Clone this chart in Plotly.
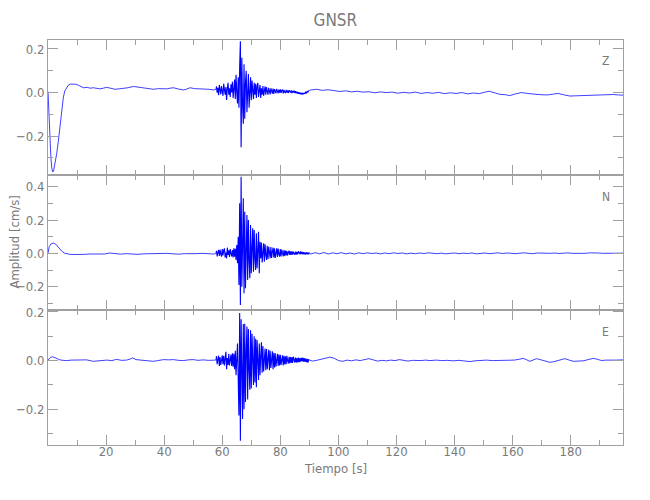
import plotly.graph_objects as go

# ---------------- data ----------------
BURST_T0 = 58.0   # start time of densely sampled strong-motion segment [s]
BURST_DT = 0.25   # sample interval of that segment [s]

# Z component
z_pre_t = [0.0, 0.25, 0.5, 0.75, 1.0, 1.3, 1.6, 1.9, 2.2, 2.6, 3.0, 3.5, 4.1, 4.7, 5.3, 5.8, 6.4, 7.0, 7.8, 8.7,
           9.5, 10.4, 11.2, 12.2, 13.5, 14.5, 15.6, 16.8, 17.9, 19.0, 20.2, 21.5, 23.1, 24.5, 26.0, 27.5, 29.4,
           30.5, 31.7, 33.0, 34.5, 36.3, 38.0, 39.5, 40.9, 42.0, 43.2, 45.0, 46.6, 47.8, 48.9, 50.5, 52.3, 54.0,
           55.5, 56.9, 57.75]
z_pre_v = [0.005, -0.08, -0.16, -0.24, -0.30, -0.345, -0.364, -0.36, -0.34, -0.31, -0.28, -0.23, -0.159, -0.085,
           -0.021, 0.008, 0.024, 0.034, 0.039, 0.040, 0.038, 0.034, 0.028, 0.022, 0.024, 0.020, 0.022, 0.019,
           0.017, 0.020, 0.024, 0.020, 0.015, 0.017, 0.018, 0.022, 0.028, 0.026, 0.022, 0.020, 0.017, 0.015,
           0.018, 0.016, 0.017, 0.020, 0.022, 0.016, 0.012, 0.016, 0.022, 0.018, 0.017, 0.019, 0.015, 0.012, 0.014]
z_burst = [0.028, 0.0, 0.022, -0.012, 0.035, 0.005, -0.008, 0.03,
           0.012, -0.015, 0.04, 0.018, -0.01, 0.025, -0.034, 0.02,
           0.045, -0.01, 0.02, -0.02, 0.038, 0.0, 0.05, -0.025,
           0.015, 0.06, -0.03, 0.082, 0.0, -0.05, 0.07, -0.07,
           0.12, 0.235, -0.251, 0.16, -0.06, -0.143, 0.13, -0.12,
           0.05, 0.1, -0.09, 0.02, 0.085, -0.07, -0.02, 0.07,
           -0.035, 0.055, 0.01, -0.03, 0.045, -0.01, 0.04, -0.025,
           0.03, 0.045, -0.02, 0.01, 0.035, -0.025, 0.02, -0.01,
           0.03, -0.015, 0.012, 0.028, -0.01, 0.025, 0.005, -0.01,
           0.022, 0.0, -0.008, 0.02, 0.004, -0.005, 0.018, -0.006,
           0.016, 0.005, -0.003, 0.017, 0.002, -0.004, 0.014, 0.0,
           0.015, -0.002, 0.01, 0.014, -0.004, 0.012, 0.002, -0.002,
           0.012, 0.0, 0.01, -0.003, 0.011, 0.003, 0.0, 0.01,
           -0.002, 0.008, 0.0, 0.009, -0.002, 0.006, -0.003, 0.004,
           -0.005, 0.002, -0.006, 0.0, -0.008, -0.002, -0.008, -0.003,
           -0.006, -0.002, -0.005, 0.002, -0.002, 0.005, 0.002, 0.008,
           0.01]
z_post_t = [90.5, 92.5, 94.5, 96.5, 98.5, 100.5, 102.5, 104.5, 106.5, 108.5, 110.5, 112.5, 114.5, 116.5, 118.5,
            120.5, 122.5, 124.5, 126.5, 128.5, 130.5, 132.5, 134.5, 136.5, 138.5, 140.5, 142.5, 144.5, 146.5,
            148.5, 150.5, 152.0, 154.0, 155.5, 157.5, 159.0, 161.0, 163.0, 165.0, 166.0, 168.0, 170.0, 172.0,
            174.0, 175.7, 177.5, 179.7, 181.5, 183.0, 185.0, 187.0, 189.0, 191.0, 193.0, 194.6, 196.5, 198.0]
z_post_v = [0.012, 0.015, 0.010, 0.013, 0.008, 0.005, 0.008, 0.003, 0.006, 0.002, 0.004, -0.001, 0.003, 0.0,
            0.002, -0.003, 0.001, -0.002, 0.002, -0.004, 0.0, -0.003, 0.001, -0.005, -0.001, -0.004, 0.0,
            -0.006, -0.002, -0.005, 0.002, 0.006, -0.002, -0.008, -0.010, -0.014, -0.006, 0.0, -0.004, -0.006,
            -0.008, -0.010, -0.011, -0.007, -0.004, -0.010, -0.016, -0.015, -0.014, -0.013, -0.012, -0.012,
            -0.011, -0.010, -0.009, -0.011, -0.012]

# N component
n_pre_t = [0.0, 0.4, 1.0, 1.8, 2.6, 3.5, 4.7, 5.8, 6.8, 7.6, 9.0, 11.0, 12.5, 14.5, 16.0, 17.9, 19.5, 21.3, 23.0,
           25.0, 27.0, 29.0, 31.0, 33.0, 35.0, 37.0, 39.0, 41.0, 43.0, 45.0, 47.0, 49.0, 51.0, 53.0, 55.0, 57.0,
           57.75]
n_pre_v = [0.0, 0.04, 0.056, 0.062, 0.056, 0.036, 0.014, 0.0, -0.005, -0.006, -0.007, -0.008, -0.006, -0.004,
           -0.005, -0.002, -0.004, 0.002, -0.003, -0.005, -0.002, -0.004, -0.006, -0.003, -0.002, -0.005,
           -0.003, 0.0, -0.003, -0.005, -0.002, -0.004, -0.002, 0.0, -0.003, -0.004, -0.002]
n_burst = [0.015, -0.018, 0.005, 0.02, -0.015, 0.022, -0.005, -0.02,
           0.025, -0.012, 0.018, 0.03, -0.025, 0.005, -0.03, 0.034,
           -0.01, 0.018, -0.022, 0.025, 0.0, -0.018, 0.02, -0.025,
           0.03, -0.02, 0.028, -0.04, 0.05, -0.06, 0.1, -0.19,
           0.30, -0.31, 0.46, -0.2, 0.05, 0.33, -0.24, 0.25,
           -0.21, 0.08, 0.23, -0.16, 0.2, -0.05, -0.15, 0.17,
           -0.12, 0.03, 0.15, -0.11, 0.14, -0.04, -0.1, 0.12,
           -0.09, 0.02, 0.13, -0.12, 0.07, -0.03, 0.065, -0.055,
           0.02, 0.06, -0.05, 0.055, -0.01, -0.04, 0.045, -0.035,
           0.04, 0.005, -0.03, 0.038, -0.028, 0.01, 0.035, -0.025,
           0.03, -0.028, 0.0, 0.03, -0.022, 0.028, -0.005, -0.02,
           0.025, -0.018, 0.022, 0.0, -0.018, 0.02, -0.015, 0.017,
           -0.012, 0.015, -0.013, 0.005, 0.016, -0.01, 0.012, -0.009,
           0.012, -0.008, 0.01, -0.002, -0.008, 0.01, -0.007, 0.009,
           -0.006, 0.012, 0.001, -0.005, 0.011, -0.005, 0.008, -0.006,
           0.007, -0.006, 0.006, -0.007, 0.006, -0.005, 0.005, -0.006,
           0.004]
n_post_t = [90.5, 92.0, 93.5, 95.0, 96.5, 98.0, 99.5, 101.0, 102.5, 104.0, 105.5, 107.0, 108.5, 110.0, 111.5,
            113.0, 114.5, 116.0, 117.5, 119.0, 120.5, 122.0, 123.5, 125.0, 126.5, 128.0, 129.5, 131.0, 132.5,
            134.0, 135.5, 137.0, 138.5, 140.0, 141.5, 143.0, 144.5, 146.0, 147.5, 149.0, 150.5, 152.0, 153.5,
            155.0, 156.5, 158.0, 159.5, 161.0, 162.5, 164.0, 165.5, 167.0, 168.5, 170.0, 171.5, 173.0, 174.5,
            176.0, 177.5, 179.0, 180.5, 182.0, 183.5, 185.0, 186.5, 188.0, 189.5, 191.0, 192.5, 194.0, 195.5,
            197.0, 198.0]
n_post_v = [-0.004, 0.004, -0.003, 0.005, -0.004, 0.003, -0.002, 0.004, -0.003, 0.002, -0.004, 0.003, -0.002,
            0.003, -0.001, 0.002, -0.003, 0.002, -0.002, 0.003, -0.001, 0.002, -0.003, 0.001, -0.002, 0.002,
            -0.001, 0.003, 0.0, -0.002, 0.001, -0.003, 0.0, 0.002, -0.002, 0.001, -0.001, 0.002, -0.003, 0.0,
            0.002, -0.002, 0.001, 0.003, -0.001, 0.002, 0.0, -0.002, 0.001, 0.003, 0.0, -0.002, 0.002, 0.001,
            -0.002, 0.0, 0.002, -0.001, 0.001, 0.003, 0.0, -0.001, 0.002, 0.0, 0.003, 0.004, 0.002, 0.0, 0.001,
            -0.001, 0.001, 0.0, 0.001]

# E component
e_pre_t = [0.0, 0.8, 1.6, 2.4, 3.2, 4.1, 5.2, 6.4, 8.0, 9.8, 11.5, 13.3, 15.6, 17.5, 20.2, 22.0, 23.6, 25.3,
           27.0, 28.2, 29.1, 30.3, 31.7, 33.5, 35.0, 36.3, 37.8, 39.8, 41.5, 43.2, 45.0, 46.6, 48.3, 50.0, 51.7,
           53.4, 55.2, 56.9, 57.75]
e_pre_v = [0.003, 0.012, 0.016, 0.012, 0.007, 0.003, 0.001, 0.0, 0.002, 0.003, 0.001, 0.003, -0.003, -0.001,
           0.002, 0.0, 0.005, 0.001, 0.002, 0.006, 0.011, 0.004, 0.002, 0.0, -0.002, -0.003, 0.0, 0.004, 0.003,
           0.004, 0.001, 0.0, 0.003, 0.004, 0.001, 0.003, 0.001, 0.0, 0.002]
e_burst = [0.018, -0.015, 0.005, 0.02, -0.022, 0.015, -0.018, 0.0,
           0.022, -0.015, 0.02, -0.02, 0.025, 0.036, -0.035, 0.01,
           -0.018, 0.028, -0.02, 0.005, 0.025, -0.022, 0.03, -0.025,
           0.028, -0.035, 0.04, -0.06, 0.05, 0.07, -0.075, -0.226,
           0.196, -0.33, 0.17, -0.05, -0.24, 0.15, -0.2, 0.151,
           -0.17, 0.04, 0.14, -0.16, 0.13, -0.04, -0.12, 0.125,
           -0.115, 0.11, 0.02, -0.1, 0.1, -0.09, 0.09, -0.11,
           0.085, -0.03, -0.08, 0.07, -0.06, 0.02, 0.075, -0.05,
           0.06, -0.045, 0.0, 0.05, -0.04, 0.048, -0.035, 0.01,
           0.045, -0.04, 0.04, -0.03, 0.005, 0.038, -0.035, 0.032,
           -0.028, 0.03, -0.025, 0.0, 0.028, -0.022, 0.025, -0.02,
           0.024, -0.018, 0.005, 0.022, -0.02, 0.02, -0.016, 0.018,
           -0.015, 0.02, 0.0, -0.012, 0.016, -0.012, 0.015, -0.01,
           0.014, -0.01, 0.016, 0.002, -0.008, 0.012, -0.008, 0.01,
           -0.007, 0.012, -0.006, 0.01, -0.004, 0.011, -0.003, 0.012,
           -0.004, 0.01, -0.005, 0.008, -0.006, 0.007, -0.008, 0.005,
           0.002]
e_post_t = [91.0, 92.5, 94.0, 95.5, 97.0, 98.5, 100.0, 101.5, 103.0, 104.5, 106.0, 107.5, 109.0, 110.5, 112.0,
            113.5, 115.0, 116.5, 118.0, 119.5, 121.0, 122.5, 124.0, 125.5, 127.0, 128.5, 130.0, 131.5, 133.8,
            135.5, 137.5, 139.5, 141.5, 143.5, 145.3, 147.0, 149.0, 151.0, 153.0, 155.0, 156.7, 158.5, 160.5,
            162.5, 163.6, 164.7, 165.9, 167.0, 168.2, 169.5, 170.5, 171.7, 172.8, 174.0, 175.1, 176.5, 178.0,
            179.5, 180.9, 182.5, 184.3, 186.0, 187.7, 189.0, 190.6, 192.0, 193.4, 195.5, 198.0]
e_post_v = [-0.002, 0.001, 0.006, 0.012, 0.014, 0.010, 0.0, -0.003, 0.002, -0.001, 0.003, 0.0, 0.004, 0.008,
            0.003, -0.002, 0.001, -0.001, 0.002, 0.0, 0.004, 0.001, -0.002, 0.001, -0.001, 0.0, 0.002, 0.0,
            0.002, 0.0, 0.001, -0.001, 0.001, -0.002, -0.004, -0.001, 0.001, 0.002, 0.0, 0.001, 0.0, 0.001,
            0.002, 0.006, 0.009, 0.004, -0.003, 0.002, 0.008, 0.004, 0.0, -0.004, -0.007, -0.005, -0.001, 0.004,
            0.008, 0.002, -0.003, -0.002, -0.001, 0.004, 0.009, 0.006, 0.0, 0.002, 0.003, 0.002, 0.003]

# axis ranges and ticks
x_range = [0.0, 198.0]
x_major = [20, 40, 60, 80, 100, 120, 140, 160, 180]
x_minor = [10, 30, 50, 70, 90, 110, 130, 150, 170, 190]
y_ranges = {"Z": [-0.378, 0.241], "N": [-0.34, 0.47], "E": [-0.347, 0.208]}
y_major = {"Z": [-0.2, 0.0, 0.2], "N": [-0.2, 0.0, 0.2, 0.4], "E": [-0.2, 0.0, 0.2]}
y_minor = {"Z": [-0.3, -0.1, 0.1], "N": [-0.3, -0.1, 0.1, 0.3], "E": [-0.3, -0.1, 0.1]}
components = ["Z", "N", "E"]
title_text = "GNSR"
xlabel = "Tiempo [s]"
ylabel = "Amplitud [cm/s]"

# ---------------- figure ----------------
parts = {
    "Z": (z_pre_t, z_pre_v, z_burst, z_post_t, z_post_v),
    "N": (n_pre_t, n_pre_v, n_burst, n_post_t, n_post_v),
    "E": (e_pre_t, e_pre_v, e_burst, e_post_t, e_post_v),
}

AX = "#a0a0a0"
TX = "#7a7a7a"
LINE = "#0000ff"
FONT = "Liberation Sans Narrow, DejaVu Sans Condensed, Arial Narrow, sans-serif"

def fmt(v):
    s = "%.1f" % abs(v)
    return ("\u2212" + s) if v < 0 else s

fig = go.Figure()
domains = {"Z": [2 / 3, 1.0], "N": [1 / 3, 2 / 3], "E": [0.0, 1 / 3]}
layout = {}
for k, comp in enumerate(components):
    idx = "" if k == 0 else str(k + 1)
    pre_t, pre_v, burst, post_t, post_v = parts[comp]
    bt = [BURST_T0 + BURST_DT * i for i in range(len(burst))]
    # quiet parts (thin line)
    fig.add_trace(go.Scatter(x=pre_t + [bt[0]], y=pre_v + [burst[0]], mode="lines",
                             line=dict(color=LINE, width=0.75),
                             xaxis="x" + idx, yaxis="y" + idx, showlegend=False, hoverinfo="skip"))
    fig.add_trace(go.Scatter(x=[bt[-1]] + post_t, y=[burst[-1]] + post_v, mode="lines",
                             line=dict(color=LINE, width=0.75),
                             xaxis="x" + idx, yaxis="y" + idx, showlegend=False, hoverinfo="skip"))
    # strong-motion segment
    fig.add_trace(go.Scatter(x=bt, y=burst, mode="lines", line=dict(color=LINE, width=1.1),
                             xaxis="x" + idx, yaxis="y" + idx, showlegend=False, hoverinfo="skip"))
    layout["xaxis" + idx] = dict(
        domain=[0, 1], anchor="y" + idx, range=x_range, showline=True, linecolor=AX, linewidth=1,
        mirror="ticks", ticks="inside", ticklen=10, tickcolor=AX, tickwidth=1, automargin=False,
        tickmode="array", tickvals=x_major, ticktext=[str(x) for x in x_major], ticklabelstandoff=-6,
        showticklabels=(comp == "E"), showgrid=False, zeroline=False,
        minor=dict(tickmode="array", tickvals=x_minor, ticks="inside", ticklen=5, tickcolor=AX, showgrid=False),
        tickfont=dict(family=FONT, size=13, color=TX),
    )
    layout["yaxis" + idx] = dict(
        domain=domains[comp], anchor="x" + idx, range=y_ranges[comp], showline=True, linecolor=AX,
        linewidth=1, mirror="ticks", ticks="inside", ticklen=10, tickcolor=AX, tickwidth=1, automargin=False,
        tickmode="array", tickvals=y_major[comp], ticktext=[fmt(x) for x in y_major[comp]],
        showgrid=False, zeroline=False,
        minor=dict(tickmode="array", tickvals=y_minor[comp], ticks="inside", ticklen=5, tickcolor=AX, showgrid=False),
        tickfont=dict(family=FONT, size=13, color=TX),
    )

label_font = dict(family=FONT, size=12, color=TX)
annotations = [
    dict(text="Z", x=0.970, y=0.948, xref="paper", yref="paper", showarrow=False,
         xanchor="center", yanchor="middle", font=label_font),
    dict(text="N", x=0.970, y=0.612, xref="paper", yref="paper", showarrow=False,
         xanchor="center", yanchor="middle", font=label_font),
    dict(text="E", x=0.970, y=0.279, xref="paper", yref="paper", showarrow=False,
         xanchor="center", yanchor="middle", font=label_font),
    dict(text=ylabel, x=-0.059, y=0.5, xref="paper", yref="paper", showarrow=False, textangle=-90,
         xanchor="center", yanchor="middle", font=dict(family=FONT, size=13, color=TX)),
    dict(text=xlabel, x=0.5, y=-0.0568, xref="paper", yref="paper", showarrow=False,
         xanchor="center", yanchor="middle", font=dict(family=FONT, size=13, color=TX)),
]

fig.update_layout(
    width=650, height=500, paper_bgcolor="white", plot_bgcolor="white",
    margin=dict(l=48, r=27, t=40, b=55),
    title=dict(text=title_text, x=0.516, xanchor="center", y=0.96, yanchor="middle",
               font=dict(family=FONT, size=17, color=TX)),
    annotations=annotations,
    **layout,
)

fig.write_html("out.html", config={"displayModeBar": False},
               post_script="document.body.style.margin='0';")
